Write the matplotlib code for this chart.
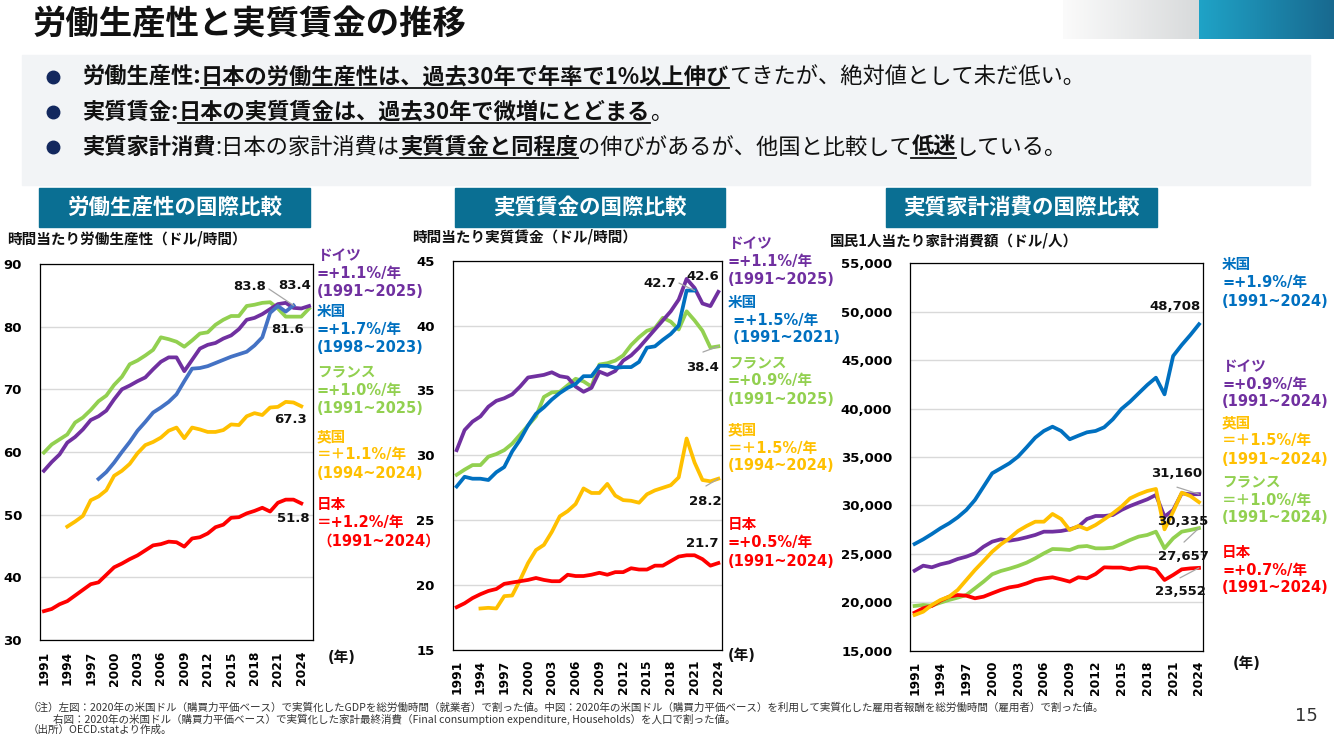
import numpy as np
import matplotlib.pyplot as plt
from matplotlib.patches import Rectangle
from matplotlib.lines import Line2D

W, H = 1334, 750
JP = ['Noto Sans CJK JP', 'DejaVu Sans']
MIX = ['DejaVu Sans', 'Noto Sans CJK JP']
plt.rcParams['font.family'] = MIX

PURPLE, BLUE, LBLUE, GREEN, YELLOW, RED = '#7030A0', '#0070C0', '#4472C4', '#92D050', '#FFC000', '#FF0000'
TEAL = '#0A6F93'

# ---------------- data ----------------
# 労働生産性 (ドル/時間)
prod_de = [57.0, 58.4, 59.6, 61.5, 62.4, 63.6, 65.1, 65.7, 66.6, 68.4,
           70.0, 70.6, 71.3, 71.9, 73.2, 74.4, 75.1, 75.1, 72.9, 74.7,
           76.5, 77.1, 77.4, 78.1, 78.6, 79.6, 81.1, 81.4, 82.0, 82.8,
           83.6, 83.8, 83.0, 82.9, 83.3]                      # 1991-2025
prod_fr = [59.9, 61.2, 62.0, 62.8, 64.7, 65.5, 66.7, 68.1, 69.0, 70.7,
           72.0, 74.0, 74.6, 75.4, 76.3, 78.3, 78.0, 77.6, 76.8, 77.8,
           78.9, 79.1, 80.3, 81.1, 81.7, 81.7, 83.3, 83.5, 83.8, 83.9,
           82.9, 81.6, 81.6, 81.6, 82.9]                      # 1991-2025
prod_us = [55.7, 56.8, 58.3, 60.0, 61.6, 63.4, 64.8, 66.3, 67.1, 68.0,
           69.2, 71.3, 73.3, 73.4, 73.7, 74.2, 74.7, 75.2, 75.6, 76.0,
           77.0, 78.3, 82.2, 83.3, 82.4, 83.4]                # 1998-2023
prod_uk = [48.1, 48.9, 49.8, 52.3, 52.9, 53.9, 56.2, 57.0, 58.1, 59.8,
           61.1, 61.6, 62.3, 63.4, 63.9, 62.2, 63.9, 63.6, 63.2, 63.2,
           63.5, 64.4, 64.3, 65.7, 66.2, 65.9, 67.1, 67.2, 68.0, 67.9,
           67.3]                                              # 1994-2024
prod_jp = [34.6, 34.95, 35.7, 36.2, 37.1, 38.0, 38.9, 39.2, 40.4, 41.6,
           42.2, 42.9, 43.5, 44.3, 45.1, 45.3, 45.7, 45.6, 44.9, 46.2,
           46.4, 47.0, 48.0, 48.4, 49.5, 49.6, 50.2, 50.6, 51.1, 50.5,
           51.9, 52.4, 52.4, 51.8]                            # 1991-2024

# 実質賃金 (ドル/時間)
wage_de = [30.4, 31.95, 32.6, 33.0, 33.75, 34.2, 34.4, 34.7, 35.3, 36.0,
           36.1, 36.2, 36.4, 36.1, 36.0, 35.3, 34.9, 35.2, 36.45, 36.2,
           36.5, 37.3, 37.7, 38.3, 39.0, 39.7, 40.4, 41.1, 42.0, 43.6,
           42.9, 41.7, 41.5, 42.6]                            # 1991-2024
wage_us = [27.6, 28.35, 28.2, 28.2, 28.1, 28.7, 29.1, 30.3, 31.2, 32.3,
           33.2, 33.7, 34.3, 34.8, 35.2, 35.5, 36.1, 36.1, 36.9, 36.9,
           36.75, 36.8, 36.8, 37.2, 38.3, 38.4, 38.9, 39.35, 40.0, 42.7,
           42.7]                                              # 1991-2021
wage_fr = [28.5, 28.9, 29.25, 29.25, 29.9, 30.1, 30.4, 30.9, 31.6, 32.3,
           33.0, 34.5, 34.85, 34.9, 35.4, 35.9, 35.7, 35.3, 37.0, 37.1,
           37.3, 37.7, 38.5, 39.1, 39.6, 39.8, 40.6, 40.3, 39.7, 41.1,
           40.4, 39.6, 38.3, 38.4]                            # 1991-2024
wage_uk = [18.2, 18.25, 18.2, 19.15, 19.2, 20.4, 21.7, 22.7, 23.1, 24.1,
           25.3, 25.7, 26.25, 27.45, 27.1, 27.1, 27.8, 26.9, 26.55, 26.5,
           26.35, 27.0, 27.3, 27.5, 27.7, 28.3, 31.3, 29.45, 28.1, 28.0,
           28.2]                                              # 1994-2024
wage_jp = [18.3, 18.6, 19.0, 19.3, 19.55, 19.7, 20.1, 20.2, 20.3, 20.4,
           20.55, 20.4, 20.3, 20.3, 20.8, 20.7, 20.7, 20.8, 20.95, 20.8,
           21.0, 21.0, 21.3, 21.2, 21.2, 21.5, 21.5, 21.85, 22.2, 22.3,
           22.3, 22.0, 21.5, 21.7]                            # 1991-2024

# 国民1人当たり家計消費額 (ドル/人), 1991-2024
cons_us = [26020, 26500, 27050, 27640, 28150, 28770, 29530, 30560, 31940, 33320,
           33830, 34350, 35040, 36000, 37000, 37690, 38130, 37690, 36830, 37200,
           37550, 37690, 38070, 38890, 39960, 40710, 41580, 42440, 43190, 41470,
           45430, 46570, 47600, 48708]
cons_de = [23265, 23780, 23610, 23920, 24125, 24470, 24710, 25050, 25740, 26260,
           26500, 26360, 26500, 26710, 26950, 27290, 27290, 27360, 27530, 27810,
           28600, 28910, 28910, 29010, 29530, 29940, 30290, 30630, 31080, 28840,
           29530, 31250, 31150, 31160]
cons_uk = [18690, 19030, 19720, 20240, 20580, 21270, 22300, 23330, 24260, 25220,
           25980, 26600, 27360, 27880, 28320, 28320, 29120, 28600, 27460, 27880,
           27530, 27980, 28570, 29180, 29870, 30730, 31150, 31490, 31700, 27530,
           29360, 31320, 30970, 30335]
cons_fr = [19620, 19720, 19650, 19960, 20240, 20480, 20750, 21440, 22130, 22890,
           23230, 23470, 23750, 24090, 24540, 25050, 25500, 25470, 25400, 25740,
           25810, 25570, 25570, 25640, 26020, 26430, 26780, 26950, 27290, 25570,
           26600, 27290, 27460, 27657]
cons_jp = [18930, 19380, 19620, 20170, 20580, 20750, 20680, 20410, 20580, 20930,
           21270, 21540, 21680, 21950, 22300, 22470, 22580, 22370, 22130, 22580,
           22470, 22920, 23610, 23580, 23580, 23400, 23610, 23610, 23400, 22300,
           22820, 23400, 23500, 23552]

legend_l = [('ドイツ', '=+1.1%/年', '(1991~2025)', PURPLE),
            ('米国', '=+1.7%/年', '(1998~2023)', BLUE),
            ('フランス', '=+1.0%/年', '(1991~2025)', GREEN),
            ('英国', '＝＋1.1%/年', '(1994~2024)', YELLOW),
            ('日本', '＝+1.2%/年', '（1991~2024）', RED)]
legend_m = [('ドイツ', '=+1.1%/年', '(1991~2025)', PURPLE),
            ('米国', ' =+1.5%/年', ' (1991~2021)', BLUE),
            ('フランス', '=+0.9%/年', '(1991~2025)', GREEN),
            ('英国', '＝＋1.5%/年', '(1994~2024)', YELLOW),
            ('日本', '=+0.5%/年', '(1991~2024)', RED)]
legend_r = [('米国', '=+1.9%/年', '(1991~2024)', BLUE),
            ('ドイツ', '=+0.9%/年', '(1991~2024)', PURPLE),
            ('英国', '＝＋1.5%/年', '(1991~2024)', YELLOW),
            ('フランス', '＝＋1.0%/年', '(1991~2024)', GREEN),
            ('日本', '=+0.7%/年', '(1991~2024)', RED)]

title = '労働生産性と実質賃金の推移'
bullets = [
    [('労働生産性:', 1, 0), ('日本の労働生産性は、過去30年で年率で1%以上伸び', 1, 1),
     ('てきたが、絶対値として未だ低い。', 0, 0)],
    [('実質賃金:', 1, 0), ('日本の実質賃金は、過去30年で微増にとどまる', 1, 1), ('。', 0, 0)],
    [('実質家計消費', 1, 0), (':日本の家計消費は', 0, 0), ('実質賃金と同程度', 1, 1),
     ('の伸びがあるが、他国と比較して', 0, 0), ('低迷', 1, 1), ('している。', 0, 0)],
]
headers = ['労働生産性の国際比較', '実質賃金の国際比較', '実質家計消費の国際比較']
ytitles = ['時間当たり労働生産性（ドル/時間）', '時間当たり実質賃金（ドル/時間）',
           '国民1人当たり家計消費額（ドル/人）']
notes = ['（注）左図：2020年の米国ドル（購買力平価ベース）で実質化したGDPを総労働時間（就業者）で割った値。'
         '中図：2020年の米国ドル（購買力平価ベース）を利用して実質化した雇用者報酬を総労働時間（雇用者）で割った値。',
         '右図：2020年の米国ドル（購買力平価ベース）で実質化した家計最終消費（Final consumption expenditure, Households）を人口で割った値。',
         '（出所）OECD.statより作成。']

# ---------------- figure ----------------
fig = plt.figure(figsize=(W / 100, H / 100), dpi=100)
R = fig.canvas.get_renderer()


def fx(x):
    return x / W


def fy(y):
    return 1 - y / H


def put(x, y, s, **kw):
    return fig.text(fx(x), fy(y), s, **kw)


def gradient(x0, x1, c0, c1):
    ga = fig.add_axes([fx(x0), fy(39), (x1 - x0) / W, 39 / H])
    c0 = np.array(plt.matplotlib.colors.to_rgb(c0))
    c1 = np.array(plt.matplotlib.colors.to_rgb(c1))
    t = np.linspace(0, 1, 200)[:, None]
    ga.imshow((c0 + (c1 - c0) * t)[None, :, :], aspect='auto')
    ga.axis('off')


gradient(1063, 1199, '#FBFBFB', '#D8DADB')
gradient(1199, 1334, '#1FA3C7', '#18698F')

put(33, 25, title, fontsize=24, fontweight='bold', family=JP, va='center', color='#111111')

fig.add_artist(Rectangle((fx(22), fy(185)), 1288 / W, 130 / H, transform=fig.transFigure,
                         color='#F2F4F6', zorder=0))


def rich(x, y, parts, size=16):
    for s, bold, ul in parts:
        t = put(x, y, s, fontsize=size, fontweight='bold' if bold else 'normal',
                family=JP, va='baseline', color='#111111')
        bb = t.get_window_extent(R)
        if ul:
            fig.add_artist(Line2D([bb.x0 / W, bb.x1 / W], [fy(y + 4)] * 2,
                                  transform=fig.transFigure, color='#111111', lw=1.3))
        x += bb.width


for i, parts in enumerate(bullets):
    yc = [77, 112, 147][i]
    fig.add_artist(Line2D([fx(53)], [fy(yc)], marker='o', ms=9, color='#13285E',
                          transform=fig.transFigure))
    rich(82, yc + 7, parts)

for (x0, x1), label in zip([(39, 310), (455, 725), (886, 1157)], headers):
    fig.add_artist(Rectangle((fx(x0), fy(227)), (x1 - x0) / W, 39 / H,
                             transform=fig.transFigure, color=TEAL))
    put((x0 + x1) / 2, 207.5, label, fontsize=15.5, fontweight='bold', family=JP,
        color='white', ha='center', va='center')


def chart(rect, last, ylim, yticks, fmt, series, pad_x):
    ax = fig.add_axes(rect)
    for start, vals, color in series:
        ax.plot(range(start, start + len(vals)), vals, color=color, lw=2.7,
                solid_joinstyle='round', zorder=3)
    ax.set_xlim(1990.5, last + 0.5)
    ax.set_ylim(*ylim)
    ax.set_yticks(yticks)
    ax.set_yticklabels([fmt(v) for v in yticks], fontweight='bold', fontsize=9.5)
    xt = list(range(1991, 2025, 3))
    ax.set_xticks(xt)
    ax.set_xticklabels([str(v) for v in xt], rotation=90, fontweight='bold', fontsize=8.8)
    ax.tick_params(axis='y', length=0, pad=13)
    ax.tick_params(axis='x', length=0, pad=pad_x)
    ax.grid(axis='y', color='#D9D9D9', lw=1)
    ax.set_axisbelow(True)
    for sp in ax.spines.values():
        sp.set_color('black')
        sp.set_linewidth(0.9)
    return ax


def tag(ax, x, y, s, dx, dy, lead=None):
    ax.annotate(s, (x, y), xytext=(dx * 0.72, -dy * 0.72), textcoords='offset points',
                ha='center', va='center', fontsize=9.5, fontweight='bold', color='#111111',
                zorder=5, annotation_clip=False)
    if lead:
        ax.annotate('', (x, y), xytext=(lead[0] * 0.72, -lead[1] * 0.72),
                    textcoords='offset points', annotation_clip=False,
                    arrowprops=dict(arrowstyle='-', color='#A6A6A6', lw=0.9,
                                    shrinkA=0, shrinkB=0))


def legend(x, ys, items, step=18):
    for y, (name, rate, span, color) in zip(ys, items):
        for k, s in enumerate([name, rate, span]):
            put(x, y + k * step, s, fontsize=10.5, fontweight='bold', color=color, va='center')


# left
ax1 = chart([fx(40), fy(640), 273 / W, 376 / H], 2025, (30, 90), range(30, 91, 10),
            lambda v: f'{v}', [(1991, prod_fr, GREEN), (1994, prod_uk, YELLOW),
                               (1991, prod_jp, RED), (1991, prod_de, PURPLE),
                               (1998, prod_us, LBLUE)], 8)
tag(ax1, 2022, prod_de[31], '83.8', -36, -16)
tag(ax1, 2023, prod_us[-1], '83.4', 1.5, -19.5, lead=(-24.6, -16.4))
tag(ax1, 2024, prod_fr[33], '81.6', -14, 13)
tag(ax1, 2024, prod_uk[-1], '67.3', -11, 13)
tag(ax1, 2024, prod_jp[-1], '51.8', -8, 15)
legend(317, [256, 312, 372, 437, 505], legend_l)

# middle
ax2 = chart([fx(452.7), fy(650), 269.6 / W, 389.3 / H], 2024, (15, 45), range(15, 46, 5),
            lambda v: f'{v}', [(1991, wage_fr, GREEN), (1994, wage_uk, YELLOW),
                               (1991, wage_jp, RED), (1991, wage_de, PURPLE),
                               (1991, wage_us, BLUE)], 7)
tag(ax2, 2021, wage_us[-1], '42.7', -34.6, -7.5, lead=(-15.6, -7.5))
tag(ax2, 2024, wage_de[-1], '42.6', -15.4, -15.8)
tag(ax2, 2024, wage_fr[-1], '38.4', -15.4, 20.7, lead=(-15.4, 5.7))
tag(ax2, 2024, wage_uk[-1], '28.2', -13.4, 22.3, lead=(-12.4, 7.3))
tag(ax2, 2024, wage_jp[-1], '21.7', -16.4, -20)
legend(728, [244, 302, 363, 430, 525], legend_m)

# right
ax3 = chart([fx(910.3), fy(650.7), 293 / W, 387.4 / H], 2024, (15000, 55000),
            range(15000, 55001, 5000), lambda v: f'{v:,}',
            [(1991, cons_fr, GREEN), (1991, cons_jp, RED), (1991, cons_de, PURPLE),
             (1991, cons_uk, YELLOW), (1991, cons_us, BLUE)], 7)
tag(ax3, 2024, cons_us[-1], '48,708', -24, -18)
tag(ax3, 2024, cons_de[-1], '31,160', -22, -21, lead=(-22, -7))
tag(ax3, 2024, cons_uk[-1], '30,335', -16, 19)
tag(ax3, 2024, cons_fr[-1], '27,657', -16, 28, lead=(-15, 14))
tag(ax3, 2024, cons_jp[-1], '23,552', -19, 24, lead=(-19, 10))
legend(1222, [265, 366, 423, 482, 552], legend_r)

for (x, y), s in zip([(7, 238), (412, 237), (830, 240)], ytitles):
    put(x, y, s, fontsize=10.5, fontweight='bold', family=JP, va='center', color='#111111')
for x, y in [(328, 657), (728, 655), (1233, 663)]:
    put(x, y, '(年)', fontsize=10.5, fontweight='bold', va='center', color='#111111')

for (x, y), s in zip([(28, 708), (53, 719), (28, 730)], notes):
    put(x, y, s, fontsize=7.6, family=JP, va='center', color='#333333')
put(1306, 716, '15', fontsize=13, ha='center', va='center', color='#333333')

fig.savefig('out.png', dpi=100)
